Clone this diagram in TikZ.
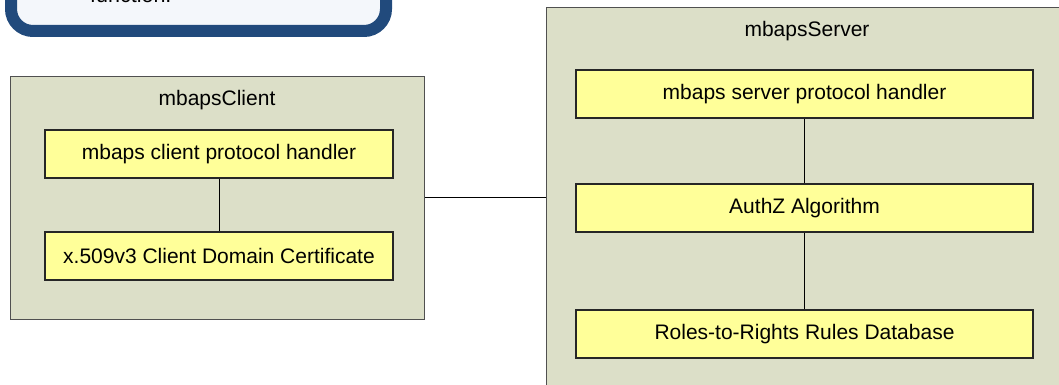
\documentclass[tikz,border=0pt]{standalone}
\usepackage{fontspec}
\setmainfont{Liberation Sans}
\definecolor{panelfill}{HTML}{DCDFC8}
\definecolor{panelline}{HTML}{505050}
\definecolor{boxfill}{HTML}{FFFF99}
\definecolor{calloutline}{HTML}{214A7C}
\definecolor{calloutfill}{HTML}{F4F7FB}
\begin{document}
\begin{tikzpicture}[x=1pt,y=-1pt,
  panel/.style={draw=panelline,fill=panelfill,line width=1.2pt},
  comp/.style={draw=black!85,fill=boxfill,line width=1.1pt,inner sep=0pt,font=\fontsize{21}{25}\selectfont},
  title/.style={font=\fontsize{21}{25}\selectfont},
  link/.style={draw=black,line width=0.9pt}]
\useasboundingbox (0,0) rectangle (1059,385);
\clip (0,0) rectangle (1059,385);
% callout (cut off at top)
\draw[draw=calloutline,fill=calloutfill,line width=12pt,rounded corners=22pt] (11,-80) rectangle (386,31);
\node[anchor=base west,font=\fontsize{21.5}{25}\selectfont,inner sep=0pt] (fn) at (90,3) {function.};
% client panel
\node[panel,minimum width=414pt,minimum height=243pt,anchor=north west,inner sep=0pt] (client) at (10,76) {};
\node[title] (clientT) at (217,100) {mbapsClient};
\node[comp,minimum width=348pt,minimum height=48pt] (cph) at (219,154) {mbaps client protocol handler};
\node[comp,minimum width=348pt,minimum height=48pt] (cert) at (219,256) {x.509v3 Client Domain Certificate};
% server panel
\node[panel,minimum width=560pt,minimum height=420pt,anchor=north west,inner sep=0pt] (server) at (546,7) {};
\node[title] (serverT) at (807,31) {mbapsServer};
\node[comp,minimum width=457pt,minimum height=48pt] (sph) at (804.5,94) {mbaps server protocol handler};
\node[comp,minimum width=457pt,minimum height=48pt] (authz) at (804.5,208) {AuthZ Algorithm};
\node[comp,minimum width=457pt,minimum height=48pt] (rules) at (804.5,334) {Roles-to-Rights Rules Database};
% connectors
\draw[link] (cph.south) -- (cert.north);
\draw[link] (sph.south) -- (authz.north);
\draw[link] (authz.south) -- (rules.north);
\draw[link] (client.east |- 0,197) -- (server.west |- 0,197);
\end{tikzpicture}
\end{document}
